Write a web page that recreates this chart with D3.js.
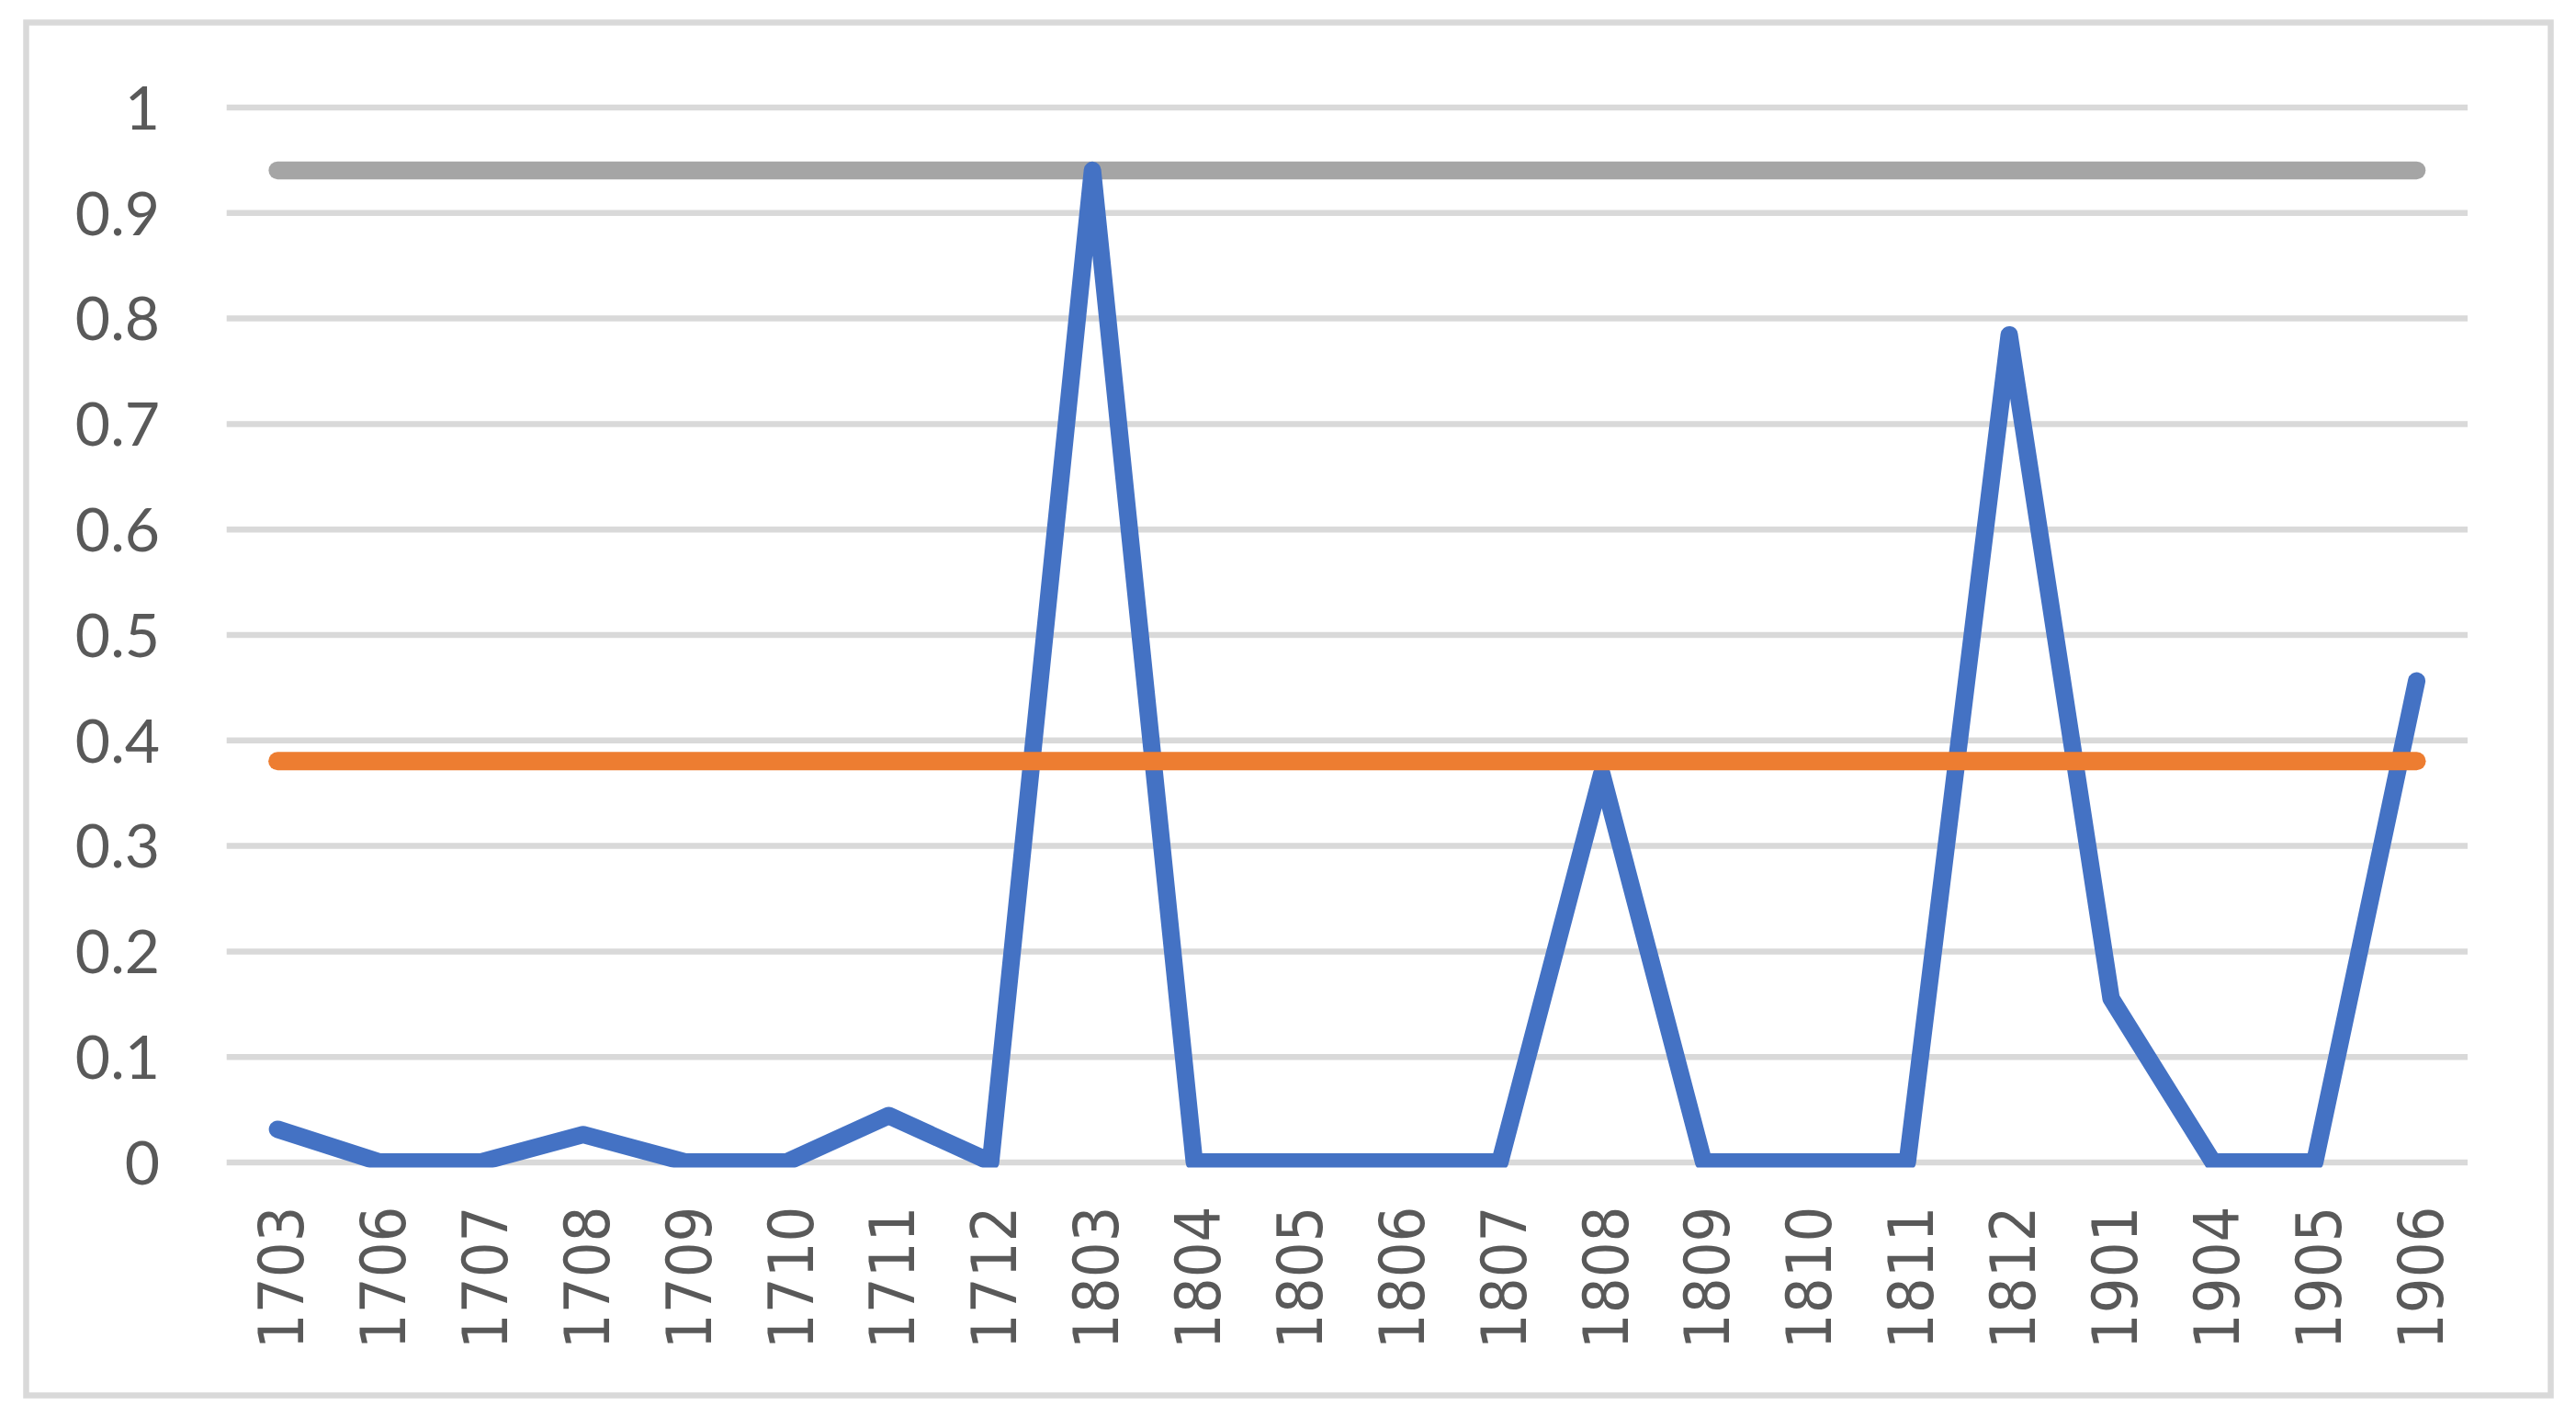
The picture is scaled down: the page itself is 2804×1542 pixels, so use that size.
<!DOCTYPE html>
<html>
<head>
<meta charset="utf-8">
<script src="https://cdn.jsdelivr.net/npm/d3@7"></script>
<style>
  html, body { margin: 0; padding: 0; background: #ffffff; }
  svg { display: block; }
</style>
</head>
<body>
<script>
// ---- data ----
const categories = ["1703","1706","1707","1708","1709","1710","1711","1712","1803","1804","1805","1806","1807","1808","1809","1810","1811","1812","1901","1904","1905","1906"];
const values = [0.031, 0, 0, 0.026, 0, 0, 0.044, 0, 0.94, 0, 0, 0, 0, 0.368, 0, 0, 0, 0.784, 0.155, 0, 0, 0.456];
const maxLine = [0.94, 0.94, 0.94, 0.94, 0.94, 0.94, 0.94, 0.94, 0.94, 0.94, 0.94, 0.94, 0.94, 0.94, 0.94, 0.94, 0.94, 0.94, 0.94, 0.94, 0.94, 0.94];
const thresholdLine = [0.38, 0.38, 0.38, 0.38, 0.38, 0.38, 0.38, 0.38, 0.38, 0.38, 0.38, 0.38, 0.38, 0.38, 0.38, 0.38, 0.38, 0.38, 0.38, 0.38, 0.38, 0.38];
const yTicks = [0, 0.1, 0.2, 0.3, 0.4, 0.5, 0.6, 0.7, 0.8, 0.9, 1];

// ---- layout ----
const W = 2804, H = 1542;
const plot = { left: 246.7, right: 2686, top: 116.5, bottom: 1264.5 };

const svg = d3.select("body").append("svg")
  .attr("width", W).attr("height", H);

// outer border
svg.append("rect")
  .attr("x", 28.5).attr("y", 24.5)
  .attr("width", 2776.5 - 28.5).attr("height", 1518.5 - 24.5)
  .attr("fill", "#ffffff")
  .attr("stroke", "#d9d9d9").attr("stroke-width", 6.5);

const x = d3.scaleBand().domain(categories).range([plot.left, plot.right]).padding(0);
const cx = d => x(d) + x.bandwidth() / 2;
const y = d3.scaleLinear().domain([0, 1]).range([plot.bottom, plot.top]);

// gridlines
const yAxis = d3.axisLeft(y).tickValues(yTicks)
  .tickSize(-(plot.right - plot.left))
  .tickFormat(d => d3.format("")(d));
const gy = svg.append("g")
  .attr("transform", `translate(${plot.left},0)`)
  .call(yAxis);
gy.select(".domain").remove();
gy.selectAll(".tick line").attr("stroke", "#d9d9d9").attr("stroke-width", 6.5);
gy.selectAll(".tick text")
  .attr("x", 174 - plot.left)
  .attr("text-anchor", "end")
  .attr("dy", "0.36em")
  .attr("fill", "#595959")
  .style("font-family", "Lato, 'Open Sans', sans-serif")
  .style("font-weight", 400)
  .style("font-size", "66px");

// x axis labels
const xAxis = d3.axisBottom(x).tickSize(0).tickPadding(0);
const gx = svg.append("g")
  .attr("transform", `translate(0,${plot.bottom})`)
  .call(xAxis);
gx.select(".domain").remove();
gx.selectAll(".tick text")
  .attr("transform", "translate(28,48) rotate(-90)")
  .attr("x", 0).attr("y", 0).attr("dy", 0)
  .attr("text-anchor", "end")
  .attr("fill", "#595959")
  .style("font-family", "'DejaVu Sans Condensed', 'DejaVu Sans', sans-serif")
  .style("font-stretch", "condensed")
  .style("font-size", "68px");

// clip for lines (plot area)
svg.append("clipPath").attr("id", "plotclip")
  .append("rect")
  .attr("x", 0).attr("y", 60)
  .attr("width", W).attr("height", 1270.5 - 60);

const line = d3.line()
  .x((d, i) => cx(categories[i]))
  .y(d => y(d));

const lines = svg.append("g").attr("clip-path", "url(#plotclip)");

lines.append("path").datum(maxLine)
  .attr("d", line)
  .attr("fill", "none")
  .attr("stroke", "#a5a5a5")
  .attr("stroke-width", 19.5)
  .attr("stroke-linecap", "round")
  .attr("stroke-linejoin", "round");

lines.append("path").datum(values)
  .attr("d", line)
  .attr("fill", "none")
  .attr("stroke", "#4472c4")
  .attr("stroke-width", 19)
  .attr("stroke-linecap", "round")
  .attr("stroke-linejoin", "round");

lines.append("path").datum(thresholdLine)
  .attr("d", line)
  .attr("fill", "none")
  .attr("stroke", "#ed7d31")
  .attr("stroke-width", 20)
  .attr("stroke-linecap", "round")
  .attr("stroke-linejoin", "round");
</script>
</body>
</html>
